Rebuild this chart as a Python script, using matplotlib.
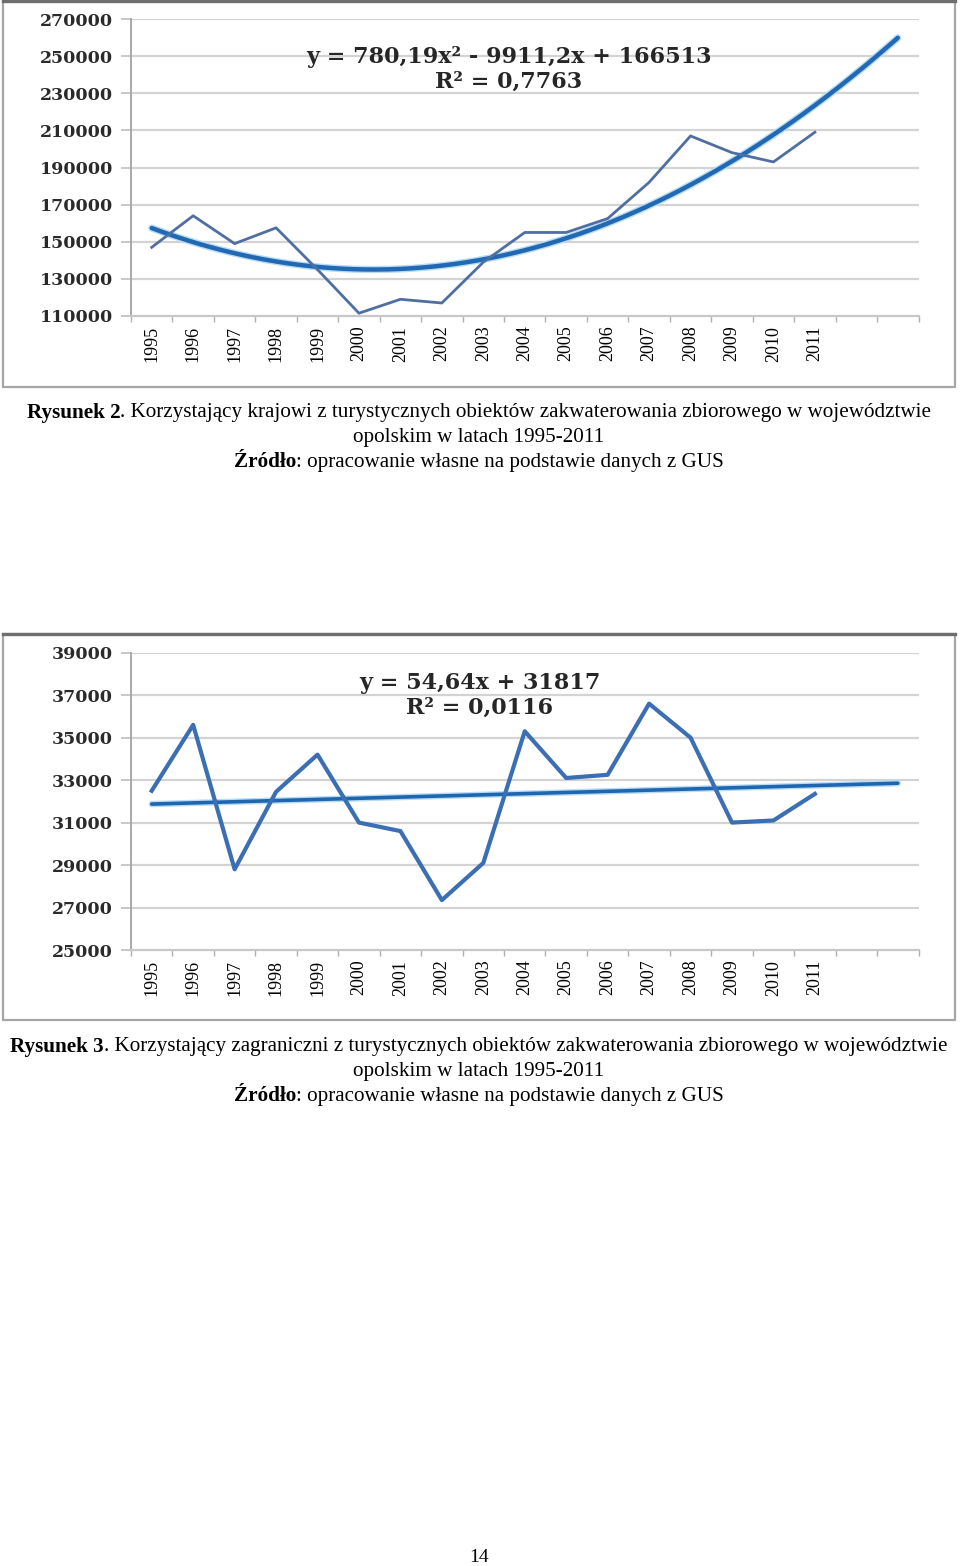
import matplotlib
matplotlib.use("Agg")
import matplotlib.pyplot as plt
from matplotlib.patches import Rectangle
from matplotlib.lines import Line2D
import numpy as np


FIG_W, FIG_H = 960, 1566
DPI = 100

years = ["1995", "1996", "1997", "1998", "1999", "2000", "2001", "2002", "2003",
         "2004", "2005", "2006", "2007", "2008", "2009", "2010", "2011"]
trend_forward = 2  # Excel trendline extended two periods past the data

domestic = [147000, 164000, 149000, 157500, 135000, 111500, 119000, 117000, 139000,
            155000, 155000, 162500, 182000, 207000, 198000, 193000, 209000]
domestic_trend_coef = [780.19, -9911.2, 166513]
domestic_ticks = [110000, 130000, 150000, 170000, 190000, 210000, 230000, 250000, 270000]
domestic_eq = ["y = 780,19x² - 9911,2x + 166513", "R² = 0,7763"]

foreign = [32500, 35600, 28800, 32450, 34200, 31000, 30600, 27350, 29100,
           35300, 33100, 33250, 36600, 35000, 31000, 31100, 32350]
foreign_trend_coef = [54.64, 31817]
foreign_ticks = [25000, 27000, 29000, 31000, 33000, 35000, 37000, 39000]
foreign_eq = ["y = 54,64x + 31817", "R² = 0,0116"]

caption_2 = [
    [("Rysunek 2", "bold"), (". Korzystający krajowi z turystycznych obiektów zakwaterowania zbiorowego w województwie", "normal")],
    [("opolskim w latach 1995-2011", "normal")],
    [("Źródło", "bold"), (": opracowanie własne na podstawie danych z GUS", "normal")],
]
caption_3 = [
    [("Rysunek 3", "bold"), (". Korzystający zagraniczni z turystycznych obiektów zakwaterowania zbiorowego w województwie", "normal")],
    [("opolskim w latach 1995-2011", "normal")],
    [("Źródło", "bold"), (": opracowanie własne na podstawie danych z GUS", "normal")],
]
page_number = "14"

SERIF = "Liberation Serif"
TICK_FONT = "DejaVu Serif"


def px_axes(fig, left, top, right, bottom):
    return fig.add_axes([left / FIG_W, 1 - bottom / FIG_H,
                         (right - left) / FIG_W, (bottom - top) / FIG_H])


def frame(fig, left, top, right, bottom):
    fig.add_artist(Rectangle((left / FIG_W, 1 - bottom / FIG_H),
                             (right - left) / FIG_W, (bottom - top) / FIG_H,
                             transform=fig.transFigure, fill=False,
                             edgecolor="#a6a6a6", linewidth=1.6))
    fig.add_artist(Line2D([left / FIG_W, right / FIG_W], [1 - top / FIG_H] * 2,
                          transform=fig.transFigure, color="#6e6e6e", linewidth=2.4))


def draw_chart(ax, values, coef, ticks, eq_lines, eq_xy, data_style, trend_style):
    n = len(values)
    n_cat = n + trend_forward
    x = np.arange(n) + 0.5
    ax.set_xlim(0, n_cat)
    ax.set_ylim(ticks[0], ticks[-1])

    for t in ticks[1:]:
        ax.axhline(t, color="#d3d3d3", linewidth=1.6, zorder=1)

    xt = np.linspace(1, n_cat, 200)
    yt = np.polyval(coef, xt)
    ax.plot(xt - 0.5, yt, color="#b8dcf5", linewidth=trend_style[1] + 2.0,
            solid_capstyle="round", zorder=2)
    ax.plot(xt - 0.5, yt, color=trend_style[0], linewidth=trend_style[1],
            solid_capstyle="round", zorder=3)
    ax.plot(x, values, color=data_style[0], linewidth=data_style[1], zorder=4)

    ax.set_yticks(ticks)
    ax.set_yticklabels([str(t) for t in ticks], fontfamily=TICK_FONT,
                       fontweight="bold", fontsize=12.5, color="#2a2a2a")
    ax.tick_params(axis="y", length=7, width=1.4, color="#c8c8c8", pad=6)

    ax.set_xticks(np.arange(n_cat + 1), minor=False)
    ax.set_xticklabels([])
    ax.set_xticks(x, minor=True)
    ax.set_xticklabels(years, minor=True, rotation=90, fontfamily=SERIF,
                       fontsize=13, color="black")
    ax.tick_params(axis="x", which="major", length=4, width=1, color="#b0b0b0")
    ax.tick_params(axis="x", which="minor", length=0, pad=7)

    for side in ("top", "right"):
        ax.spines[side].set_visible(False)
    ax.spines["left"].set_color("#a8a8a8")
    ax.spines["left"].set_linewidth(1.4)
    ax.spines["bottom"].set_color("#c8c8c8")
    ax.spines["bottom"].set_linewidth(1.6)
    ax.set_facecolor("none")

    fig = ax.figure
    for i, line in enumerate(eq_lines):
        fig.text(eq_xy[0] / FIG_W, 1 - (eq_xy[1] + i * 24.5) / FIG_H, line,
                 ha="center", va="center", fontfamily=TICK_FONT,
                 fontweight="bold", fontsize=16, color="#262626")


def caption(fig, lines, x_center, y_first, spacing=24.5, size=15.2):
    renderer = fig.canvas.get_renderer()
    for i, parts in enumerate(lines):
        y = 1 - (y_first + i * spacing) / FIG_H
        texts = []
        for s, w in parts:
            texts.append(fig.text(0, y, s, ha="left", va="center",
                                  fontfamily=SERIF, fontweight=w,
                                  fontsize=size, color="black"))
        widths = [t.get_window_extent(renderer).width for t in texts]
        x = x_center - sum(widths) / 2
        for t, w in zip(texts, widths):
            t.set_x(x / FIG_W)
            x += w


fig = plt.figure(figsize=(FIG_W / DPI, FIG_H / DPI), dpi=DPI)
fig.patch.set_facecolor("white")

frame(fig, 3, 1, 955, 387)
ax1 = px_axes(fig, 131, 19, 918.5, 316)
draw_chart(ax1, domestic, domestic_trend_coef, domestic_ticks, domestic_eq,
           (509, 57), ("#4f6fa3", 2.0), ("#2169b3", 3.2))

frame(fig, 3, 634, 955, 1020)
ax2 = px_axes(fig, 131, 652.7, 918.5, 950)
draw_chart(ax2, foreign, foreign_trend_coef, foreign_ticks, foreign_eq,
           (480, 683), ("#3c6eb4", 3.0), ("#1f66b0", 2.6))

caption(fig, caption_2, 479, 413)
caption(fig, caption_3, 479, 1047)
fig.text(479 / FIG_W, 1 - 1558 / FIG_H, page_number, ha="center", va="center",
         fontfamily=SERIF, fontsize=14, color="black")

fig.savefig("out.png", dpi=DPI)
